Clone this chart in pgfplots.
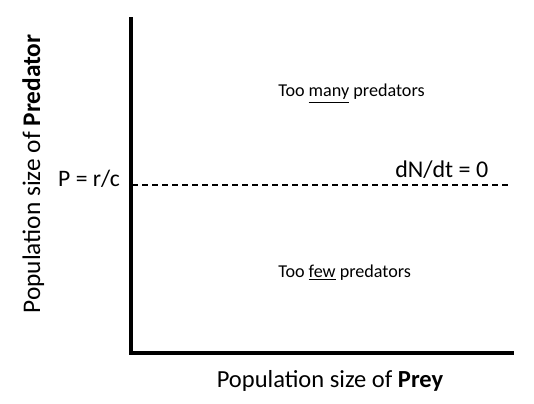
\documentclass[border=0pt]{standalone}
\usepackage{fontspec}
\setmainfont{Carlito}
\usepackage{pgfplots}
\pgfplotsset{compat=1.18}
\begin{document}
\begin{tikzpicture}[x=0.75pt,y=0.75pt]
\path[use as bounding box] (0,0) rectangle (534,403);
\begin{axis}[
    scale only axis,
    width=381*0.75pt, height=334*0.75pt,
    anchor=south west, at={(131,50)},
    xmin=131, xmax=512, ymin=50, ymax=384,
    axis lines=left,
    axis line style={-, line width=3pt, line cap=rect},
    ticks=none,
    clip=false
]
% equilibrium line dN/dt = 0
\addplot[black, line width=1.1pt, dash pattern=on 4.5pt off 3pt] coordinates {
    (132,218) (512,218)
};
\end{axis}
\node[anchor=base, inner sep=0] at (330,16) {\fontsize{18.4}{22}\selectfont Population size of \textbf{Prey}};
\node[anchor=base, rotate=90, inner sep=0] at (40,229) {\fontsize{19}{22}\selectfont Population size of \textbf{Predator}};
\node[anchor=base east, inner sep=0] at (120,216) {\fontsize{17.7}{21}\selectfont P = r/c};
\node[anchor=base west, inner sep=0] at (395,225) {\fontsize{18}{21}\selectfont dN/dt = 0};
\node[anchor=base west, inner sep=0] at (278,306) {\fontsize{13.6}{16}\selectfont Too \underline{many} predators};
\node[anchor=base west, inner sep=0] at (278,126) {\fontsize{13.6}{16}\selectfont Too \underline{few} predators};
\end{tikzpicture}
\end{document}
